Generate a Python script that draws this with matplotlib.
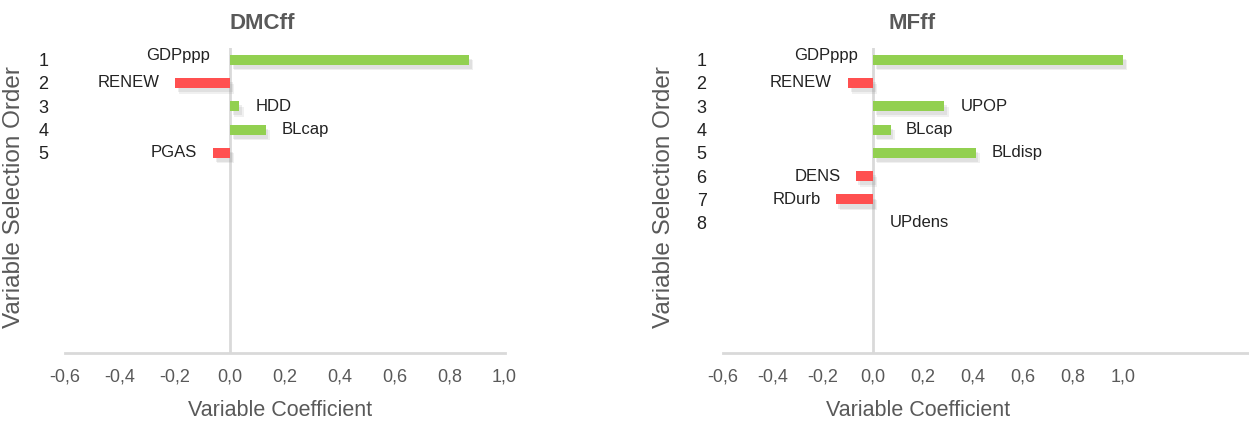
import matplotlib.pyplot as plt
import matplotlib.patheffects as pe

plt.rcParams['font.family'] = ['Liberation Sans', 'DejaVu Sans']

# DMCff model
dmc_vars = ["GDPppp", "RENEW", "HDD", "BLcap", "PGAS"]
dmc_coef = [0.87, -0.2, 0.035, 0.13, -0.06]
dmc_label_x = [-0.073, -0.255, 0.095, 0.19, -0.12]

# MFff model
mf_vars = ["GDPppp", "RENEW", "UPOP", "BLcap", "BLdisp", "DENS", "RDurb", "UPdens"]
mf_coef = [1.0, -0.1, 0.285, 0.07, 0.41, -0.07, -0.15, 0.0]
mf_label_x = [-0.06, -0.165, 0.35, 0.13, 0.475, -0.13, -0.21, 0.065]

x_ticks = [-0.6, -0.4, -0.2, 0.0, 0.2, 0.4, 0.6, 0.8, 1.0]

GREEN = "#92D050"
RED = "#FF5050"
GREY_TXT = "#595959"
GRID = "#D9D9D9"


def draw_panel(ax, names, coefs, label_x, title, xmax, title_x, xlab_x):
    order = list(range(1, len(names) + 1))
    colors = [GREEN if c >= 0 else RED for c in coefs]
    bars = ax.barh(order, coefs, height=0.43, color=colors, zorder=3)
    # soft drop shadow under the bars
    for b in bars:
        b.set_path_effects([pe.SimplePatchShadow(offset=(3, -4), shadow_rgbFace="#888888", alpha=0.12),
                            pe.SimplePatchShadow(offset=(2, -3), shadow_rgbFace="#888888", alpha=0.15),
                            pe.Normal()])
    for n, r, lx in zip(names, order, label_x):
        ha = "right" if lx < 0 else "left"
        dy = -0.2 if r == 1 else 0
        ax.text(lx, r + dy, n, ha=ha, va="center", fontsize=12, color="#222222")

    ax.set_xlim(-0.6, xmax)
    ax.set_ylim(13.6, 0.5)
    ax.axvline(0, color=GRID, lw=2, zorder=2)
    for s in ["top", "right", "left"]:
        ax.spines[s].set_visible(False)
    ax.spines["bottom"].set_color(GRID)
    ax.spines["bottom"].set_linewidth(2)

    ax.set_xticks(x_ticks)
    ax.set_xticklabels([f"{t:.1f}".replace(".", ",") for t in x_ticks])
    ax.set_yticks(order)
    ax.set_yticklabels([str(o) for o in order])
    ax.tick_params(axis="both", length=0, labelsize=13, colors=GREY_TXT)
    ax.tick_params(axis="x", pad=11)
    ax.tick_params(axis="y", pad=12)
    for t in ax.get_yticklabels():
        t.set_color("#222222")

    ax.set_ylabel("Variable Selection Order", fontsize=17.5, color=GREY_TXT)
    ax.yaxis.set_label_coords(-0.092, 0.51)
    ax.set_xlabel("Variable Coefficient", fontsize=15.5, color=GREY_TXT)
    ax.xaxis.set_label_coords(xlab_x, -0.155)
    ax.text(title_x, 1.082, title, transform=ax.transAxes, ha="center", va="center",
            fontsize=16, fontweight="bold", color=GREY_TXT)


fig = plt.figure(figsize=(12.49, 4.25), dpi=100)
ax1 = fig.add_axes([0.052, 0.169, 0.352, 0.718])
ax2 = fig.add_axes([0.579, 0.169, 0.421, 0.718])

draw_panel(ax1, dmc_vars, dmc_coef, dmc_label_x, "DMCff", 1.0, 0.448, 0.489)
draw_panel(ax2, mf_vars, mf_coef, mf_label_x, "MFff", 1.504, 0.359, 0.371)

fig.savefig("out.png", dpi=100)
